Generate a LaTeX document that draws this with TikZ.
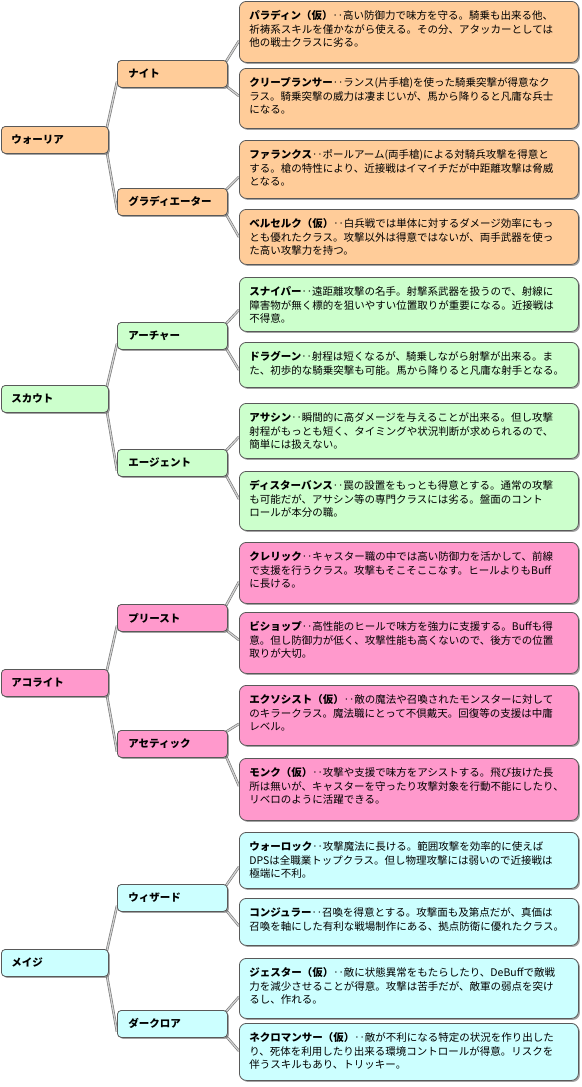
\documentclass[tikz,border=0pt]{standalone}
\usepackage{fontspec}
\setmainfont{Noto Sans CJK JP}
\usepackage{tikz}
\definecolor{wc}{RGB}{255, 204, 153}
\definecolor{sc}{RGB}{204, 255, 204}
\definecolor{ac}{RGB}{255, 153, 204}
\definecolor{mc}{RGB}{204, 255, 255}
\usetikzlibrary{shadows}
\usetikzlibrary{backgrounds}
\tikzset{
  box/.style={draw=black!65, line width=0.8pt, anchor=north west, align=left,
    drop shadow={shadow xshift=1.5pt, shadow yshift=-1.5pt, fill=black!60, opacity=0.6}},
  topbox/.style={box, rounded corners=4pt, minimum width=107pt, minimum height=27pt,
    text width=87pt, inner xsep=10pt, font=\fontsize{10.5}{12}\selectfont\bfseries},
  midbox/.style={box, rounded corners=4pt, minimum width=110pt, minimum height=27pt,
    text width=88pt, inner xsep=11pt, font=\fontsize{10.5}{12}\selectfont\bfseries},
  leafbox/.style={box, rounded corners=7pt, minimum width=339pt, text width=319pt,
    inner xsep=10pt, inner ysep=7pt, text height=11.5pt, font=\fontsize{10.5}{13.2}\selectfont},
  link/.style={draw=black!55, double=black!18, double distance=1.3pt, line width=0.6pt}
}

\begin{document}
\begin{tikzpicture}
\useasboundingbox (0pt, 0pt) rectangle (581pt, -1087pt);
% ウォーリア
\node (1) [topbox, fill=wc] at (1pt, -126pt) {ウォーリア};
\node (11) [midbox, fill=wc] at (117pt, -60pt) {ナイト};
\node (12) [midbox, fill=wc] at (117pt, -188pt) {グラディエーター};
\node (111) [leafbox, fill=wc, text depth=35.5pt] at (239pt, -1pt) {{\bfseries パラディン（仮）}‥高い防御力で味方を守る。騎乗も出来る他、\\祈祷系スキルを僅かながら使える。その分、アタッカーとしては\\他の戦士クラスに劣る。};
\node (112) [leafbox, fill=wc, text depth=34.5pt] at (239pt, -68pt) {{\bfseries クリープランサー}‥ランス(片手槍)を使った騎乗突撃が得意なク\\ラス。騎乗突撃の威力は凄まじいが、馬から降りると凡庸な兵士\\になる。};
\node (121) [leafbox, fill=wc, text depth=32.5pt] at (239pt, -140pt) {{\bfseries ファランクス}‥ポールアーム(両手槍)による対騎兵攻撃を得意と\\する。槍の特性により、近接戦はイマイチだが中距離攻撃は脅威\\となる。};
\node (122) [leafbox, fill=wc, text depth=29.5pt] at (239pt, -209pt) {{\bfseries ベルセルク（仮）}‥白兵戦では単体に対するダメージ効率にもっ\\とも優れたクラス。攻撃以外は得意ではないが、両手武器を使っ\\た高い攻撃力を持つ。};
% スカウト
\node (2) [topbox, fill=sc] at (1pt, -385pt) {スカウト};
\node (21) [midbox, fill=sc] at (117pt, -322pt) {アーチャー};
\node (22) [midbox, fill=sc] at (117pt, -449pt) {エージェント};
\node (211) [leafbox, fill=sc, text depth=28.5pt] at (239pt, -277pt) {{\bfseries スナイパー}‥遠距離攻撃の名手。射撃系武器を扱うので、射線に\\障害物が無く標的を狙いやすい位置取りが重要になる。近接戦は\\不得意。};
\node (212) [leafbox, fill=sc, text depth=19.5pt] at (239pt, -342pt) {{\bfseries ドラグーン}‥射程は短くなるが、騎乗しながら射撃が出来る。ま\\た、初歩的な騎乗突撃も可能。馬から降りると凡庸な射手となる。};
\node (221) [leafbox, fill=sc, text depth=29.5pt] at (239pt, -403pt) {{\bfseries アサシン}‥瞬間的に高ダメージを与えることが出来る。但し攻撃\\射程がもっとも短く、タイミングや状況判断が求められるので、\\簡単には扱えない。};
\node (222) [leafbox, fill=sc, text depth=33.5pt] at (239pt, -471pt) {{\bfseries ディスターバンス}‥罠の設置をもっとも得意とする。通常の攻撃\\も可能だが、アサシン等の専門クラスには劣る。盤面のコント\\ロールが本分の職。};
% アコライト
\node (3) [topbox, fill=ac] at (1pt, -669pt) {アコライト};
\node (31) [midbox, fill=ac] at (117pt, -604pt) {プリースト};
\node (32) [midbox, fill=ac] at (117pt, -730pt) {アセティック};
\node (311) [leafbox, fill=ac, text depth=35.5pt] at (239pt, -542pt) {{\bfseries クレリック}‥キャスター職の中では高い防御力を活かして、前線\\で支援を行うクラス。攻撃もそこそここなす。ヒールよりもBuff\\に長ける。};
\node (312) [leafbox, fill=ac, text depth=35.5pt] at (239pt, -612pt) {{\bfseries ビショップ}‥高性能のヒールで味方を強力に支援する。Buffも得\\意。但し防御力が低く、攻撃性能も高くないので、後方での位置\\取りが大切。};
\node (321) [leafbox, fill=ac, text depth=34.5pt] at (239pt, -685pt) {{\bfseries エクソシスト（仮）}‥敵の魔法や召喚されたモンスターに対して\\のキラークラス。魔法職にとって不倶戴天。回復等の支援は中庸\\レベル。};
\node (322) [leafbox, fill=ac, text depth=36.5pt] at (239pt, -758pt) {{\bfseries モンク（仮）}‥攻撃や支援で味方をアシストする。飛び抜けた長\\所は無いが、キャスターを守ったり攻撃対象を行動不能にしたり、\\リベロのように活躍できる。};
% メイジ
\node (4) [topbox, fill=mc] at (1pt, -949pt) {メイジ};
\node (41) [midbox, fill=mc] at (117pt, -884pt) {ウィザード};
\node (42) [midbox, fill=mc] at (117pt, -1010pt) {ダークロア};
\node (411) [leafbox, fill=mc, text depth=30.5pt] at (239pt, -832pt) {{\bfseries ウォーロック}‥攻撃魔法に長ける。範囲攻撃を効率的に使えば\\DPSは全職業トップクラス。但し物理攻撃には弱いので近接戦は\\極端に不利。};
\node (412) [leafbox, fill=mc, text depth=21.5pt] at (239pt, -898pt) {{\bfseries コンジュラー}‥召喚を得意とする。攻撃面も及第点だが、真価は\\召喚を軸にした有利な戦場制作にある、拠点防衛に優れたクラス。};
\node (421) [leafbox, fill=mc, text depth=34.5pt] at (239pt, -958pt) {{\bfseries ジェスター（仮）}‥敵に状態異常をもたらしたり、DeBuffで敵戦\\力を減少させることが得意。攻撃は苦手だが、敵軍の弱点を突け\\るし、作れる。};
\node (422) [leafbox, fill=mc, text depth=31.5pt] at (239pt, -1023pt) {{\bfseries ネクロマンサー（仮）}‥敵が不利になる特定の状況を作り出した\\り、死体を利用したり出来る環境コントロールが得意。リスクを\\伴うスキルもあり、トリッキー。};
% connectors
\begin{scope}[on background layer]
\foreach \g in {1,2,3,4} {
  \draw [link] ([xshift=-2pt, yshift=-2pt]\g.north east) -- ([yshift=6pt]\g1.south west);
  \draw [link] ([xshift=-2pt, yshift=2pt]\g.south east) -- ([yshift=6pt]\g2.south west);
  \foreach \m in {1,2} {
    \draw [link] ([xshift=-2pt, yshift=-2pt]\g\m.north east) -- ([yshift=22pt]\g\m1.south west);
    \draw [link] ([xshift=-2pt, yshift=2pt]\g\m.south east) -- ([yshift=-28pt]\g\m2.north west);
  }
}
\end{scope}
\end{tikzpicture}
\end{document}
